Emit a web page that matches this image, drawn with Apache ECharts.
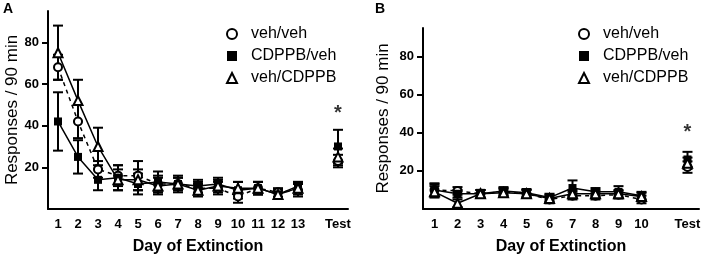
<!DOCTYPE html>
<html>
<head>
<meta charset="utf-8">
<script src="https://cdn.jsdelivr.net/npm/echarts@6/dist/echarts.min.js"></script>
<style>
  html, body { margin: 0; padding: 0; background: #fff; }
  #chart { width: 709px; height: 260px; }
</style>
</head>
<body>
<div id="chart"></div>
<script>
// panel A: 13 extinction days + test
const daysA = ['1', '2', '3', '4', '5', '6', '7', '8', '9', '10', '11', '12', '13', '', 'Test'];
const vehVehA = [68, 42, 19, 16, 16, 12, 12, 10, 10, 6, 10, 8, 9, null, 23];
const vehVehErrA = [6, 8, 4, 5, 7, 4, 3, 3, 3, 3, 3, 2, 3, null, 3];
const cdppbVehA = [42, 25, 14, 15, 12, 13, 12, 11, 12, 9, 10, 7, 11, null, 30];
const cdppbVehErrA = [14, 8, 5, 6, 5, 5, 4, 3, 3, 4, 3, 2, 2, null, 8];
const vehCdppbA = [75, 52, 30, 14, 14, 11, 12, 9, 11, 10, 10, 7, 10, null, 25];
const vehCdppbErrA = [13, 10, 9, 5, 5, 4, 3, 3, 3, 3, 3, 2, 3, null, 4];

// panel B: 10 extinction days + test
const daysB = ['1', '2', '3', '4', '5', '6', '7', '8', '9', '10', '', 'Test'];
const vehVehB = [10, 9.5, 8, 9, 8, 5, 7, 7, 7.5, 5, null, 22];
const vehVehErrB = [3, 2, 2, 2, 2, 2, 2, 2, 2, 2, null, 3];
const cdppbVehB = [10, 8, 8, 9.5, 8.5, 6, 11, 9, 9, 7, null, 26];
const cdppbVehErrB = [3.5, 2, 2, 2, 2, 2, 4, 2, 3, 2, null, 4];
const vehCdppbB = [9, 3, 8, 8.5, 8, 5.5, 8, 8, 8, 6.5, null, 24];
const vehCdppbErrB = [3, 2, 2, 2, 2, 2, 2, 2, 2, 2, null, 3];

const FONT = '"Liberation Sans", Arial, sans-serif';
const names = ['veh/veh', 'CDPPB/veh', 'veh/CDPPB'];

const markers = {
  'veh/veh': { symbol: 'circle', size: 8, itemStyle: { color: '#fff', borderColor: '#000', borderWidth: 2 }, dash: [4, 4] },
  'CDPPB/veh': { symbol: 'rect', size: 8, itemStyle: { color: '#000', borderColor: '#000', borderWidth: 0 }, dash: 'solid' },
  'veh/CDPPB': { symbol: 'triangle', size: 9, itemStyle: { color: '#fff', borderColor: '#000', borderWidth: 2 }, dash: 'solid' }
};

function errorSeries(name, idx, means, errs) {
  const data = [];
  means.forEach((m, i) => {
    if (m != null) data.push([i, m - errs[i], m + errs[i]]);
  });
  return {
    name: name, type: 'custom', xAxisIndex: idx, yAxisIndex: idx, z: 2,
    data: data,
    renderItem: function (params, api) {
      const x = api.value(0);
      const lo = api.coord([x, api.value(1)]);
      const hi = api.coord([x, api.value(2)]);
      const h = 5;
      const st = { stroke: '#000', lineWidth: 2 };
      return {
        type: 'group',
        children: [
          { type: 'line', shape: { x1: lo[0], y1: lo[1], x2: hi[0], y2: hi[1] }, style: st },
          { type: 'line', shape: { x1: hi[0] - h, y1: hi[1], x2: hi[0] + h, y2: hi[1] }, style: st },
          { type: 'line', shape: { x1: lo[0] - h, y1: lo[1], x2: lo[0] + h, y2: lo[1] }, style: st }
        ]
      };
    }
  };
}

function lineSeries(name, idx, means) {
  const m = markers[name];
  return {
    name: name, type: 'line', xAxisIndex: idx, yAxisIndex: idx, z: 3,
    data: means, connectNulls: false,
    symbol: m.symbol, symbolSize: m.size, showSymbol: true,
    itemStyle: m.itemStyle,
    lineStyle: { color: '#000', width: 1.5, type: m.dash },
    emphasis: { disabled: true }
  };
}

// the significance star over the Test day
function starSeries(idx, cat, v) {
  return {
    type: 'scatter', xAxisIndex: idx, yAxisIndex: idx, z: 4,
    data: [[cat, v]], symbolSize: 1, itemStyle: { color: 'transparent' },
    label: { show: true, position: 'inside', formatter: '*', color: '#000', fontSize: 20, fontWeight: 'bold', fontFamily: FONT }
  };
}

function xAxisFor(idx, cats) {
  return {
    type: 'category', gridIndex: idx, data: cats, boundaryGap: true,
    name: 'Day of Extinction', nameLocation: 'middle', nameGap: 30,
    nameTextStyle: { fontSize: 16, fontWeight: 'bold', color: '#000', fontFamily: FONT },
    axisLine: { lineStyle: { color: '#000', width: 2 } },
    axisTick: { alignWithLabel: true, length: 6, lineStyle: { width: 2, color: '#000' },
      interval: (i, v) => v !== '' },
    axisLabel: { interval: 0, margin: 9, fontSize: 13, fontWeight: 'bold', color: '#000', fontFamily: FONT },
    splitLine: { show: false }
  };
}

function yAxisFor(idx, gap) {
  return {
    type: 'value', gridIndex: idx, min: 0, max: 95,
    name: 'Responses / 90 min', nameLocation: 'middle', nameGap: gap, nameRotate: 90,
    nameTextStyle: { fontSize: 17, color: '#000', fontFamily: FONT },
    axisLine: { show: true, lineStyle: { color: '#000', width: 2 } },
    axisTick: { show: true, length: 6, lineStyle: { width: 2, color: '#000' }, customValues: [20, 40, 60, 80] },
    axisLabel: { margin: 9, fontSize: 13, fontWeight: 'bold', color: '#000', fontFamily: FONT, customValues: [20, 40, 60, 80] },
    splitLine: { show: false }
  };
}

function legendFor(left) {
  return {
    orient: 'vertical', left: left, top: 21, itemGap: 6,
    itemWidth: 10, itemHeight: 10, selectedMode: false,
    textStyle: { fontSize: 16, color: '#000', fontFamily: FONT, padding: [0, 0, 0, 9] },
    data: names.map(n => ({ name: n, icon: markers[n].symbol, itemStyle: markers[n].itemStyle }))
  };
}

const chart = echarts.init(document.getElementById('chart'), null, { renderer: 'canvas' });
chart.setOption({
  animation: false,
  backgroundColor: '#fff',
  textStyle: { fontFamily: FONT },
  graphic: [
    { type: 'text', left: 3, top: 2, style: { text: 'A', fontSize: 14, fontWeight: 'bold', fill: '#000', fontFamily: FONT } },
    { type: 'text', left: 375, top: 2, style: { text: 'B', fontSize: 14, fontWeight: 'bold', fill: '#000', fontFamily: FONT } }
  ],
  legend: [legendFor(221), legendFor(573)],
  grid: [
    { left: 48, top: 11, width: 300, height: 198 },
    { left: 423, top: 28, width: 276, height: 182 }
  ],
  xAxis: [xAxisFor(0, daysA), xAxisFor(1, daysB)],
  yAxis: [yAxisFor(0, 26), yAxisFor(1, 31)],
  series: [
    errorSeries('veh/veh', 0, vehVehA, vehVehErrA),
    errorSeries('CDPPB/veh', 0, cdppbVehA, cdppbVehErrA),
    errorSeries('veh/CDPPB', 0, vehCdppbA, vehCdppbErrA),
    lineSeries('veh/veh', 0, vehVehA),
    lineSeries('CDPPB/veh', 0, cdppbVehA),
    lineSeries('veh/CDPPB', 0, vehCdppbA),
    starSeries(0, 'Test', 46),
    errorSeries('veh/veh', 1, vehVehB, vehVehErrB),
    errorSeries('CDPPB/veh', 1, cdppbVehB, cdppbVehErrB),
    errorSeries('veh/CDPPB', 1, vehCdppbB, vehCdppbErrB),
    lineSeries('veh/veh', 1, vehVehB),
    lineSeries('CDPPB/veh', 1, cdppbVehB),
    lineSeries('veh/CDPPB', 1, vehCdppbB),
    starSeries(1, 'Test', 40)
  ]
});
</script>
</body>
</html>
